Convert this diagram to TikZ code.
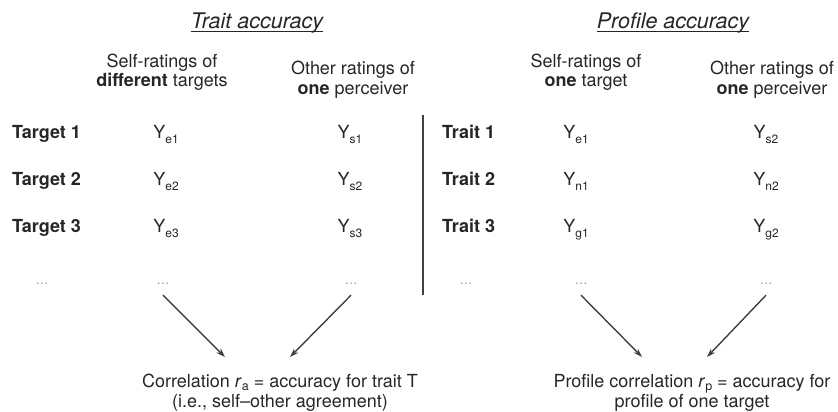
\documentclass[tikz,border=0pt]{standalone}
\usepackage{fontspec}
\setmainfont{TeX Gyre Heros}
\usetikzlibrary{arrows.meta}

\newcommand{\lowsub}[1]{\raisebox{-5pt}{\fontsize{12}{12}\selectfont #1}}
\newcommand{\rsub}[1]{\raisebox{-3.5pt}{\fontsize{12.5}{12.5}\selectfont #1}}
\newcommand{\yv}[1]{Y\lowsub{#1}}

\begin{document}
\begin{tikzpicture}[x=1pt, y=-1pt,
    txt/.style={font=\fontsize{18}{20}\selectfont, text=black!85, inner sep=0pt, anchor=base},
    head/.style={txt, align=center},
    ttl/.style={txt, font=\fontsize{21.5}{22}\selectfont\itshape},
    rowlab/.style={txt, font=\fontsize{18}{20}\selectfont\bfseries, anchor=base west},
    dotsn/.style={txt, font=\fontsize{13}{13}\selectfont, text=black!40},
    arr/.style={draw=black!75, line width=1.4pt, -{Stealth[length=9pt,width=6pt]}}]
    \useasboundingbox (0,0) rectangle (838,412);

    % titles
    \node[ttl] (ttlA) at (257,29) {Trait accuracy};
    \node[ttl] (ttlB) at (673,29) {Profile accuracy};
    \draw[black!85, line width=0.9pt] ([yshift=-2.5pt]ttlA.base west) -- ([yshift=-2.5pt]ttlA.base east);
    \draw[black!85, line width=0.9pt] ([yshift=-2.5pt]ttlB.base west) -- ([yshift=-2.5pt]ttlB.base east);

    % column heads (base = last line)
    \node[head] (selfA) at (162,87) {Self-ratings of\\\textbf{different} targets};
    \node[head] (othA) at (353,94) {Other ratings of\\\textbf{one} perceiver};
    \node[head] (selfB) at (586,87) {Self-ratings of\\\textbf{one} target};
    \node[head] (othB) at (772,94) {Other ratings of\\\textbf{one} perceiver};

    % rows
    \foreach \n/\yy in {1/138,2/185,3/232} {
        \node[rowlab] (tg\n) at (12,\yy) {Target \n};
        \node[rowlab] (tr\n) at (442,\yy) {Trait \n};
        \node[txt] (ye\n) at (166,\yy) {\yv{e\n}};
        \node[txt] (ys\n) at (350,\yy) {\yv{s\n}};
    }
    \foreach \n/\a/\b/\yy in {1/e1/s2/138,2/n1/n2/185,3/g1/g2/232} {
        \node[txt] (pf\n) at (576,\yy) {\yv{\a}};
        \node[txt] (po\n) at (766,\yy) {\yv{\b}};
    }

    % dots
    \node[dotsn] (dtg) at (42,284) {\dots};
    \node[dotsn] (dye) at (163,284) {\dots};
    \node[dotsn] (dys) at (351,284) {\dots};
    \node[dotsn] (dtr) at (466,284) {\dots};
    \node[dotsn] (dpf) at (581,284) {\dots};
    \node[dotsn] (dpo) at (766,284) {\dots};

    \draw[black!75, line width=1.4pt] (423,115) -- (423,295);

    % correlations
    \node[head] (corrA) at (280,407) {Correlation \textit{r}\rsub{a} = accuracy for trait T\\(i.e., self--other agreement)};
    \node[head] (corrB) at (692,407) {Profile correlation \textit{r}\rsub{p} = accuracy for\\profile of one target};

    \coordinate (inA1) at (225,357);
    \coordinate (inA2) at (290,357);
    \coordinate (inB1) at (642,357);
    \coordinate (inB2) at (707,357);

    \draw[arr] ([yshift=-11pt]dye.south) -- (inA1);
    \draw[arr] ([yshift=-11pt]dys.south) -- (inA2);
    \draw[arr] ([yshift=-11pt]dpf.south) -- (inB1);
    \draw[arr] ([yshift=-11pt]dpo.south) -- (inB2);

\end{tikzpicture}
\end{document}
